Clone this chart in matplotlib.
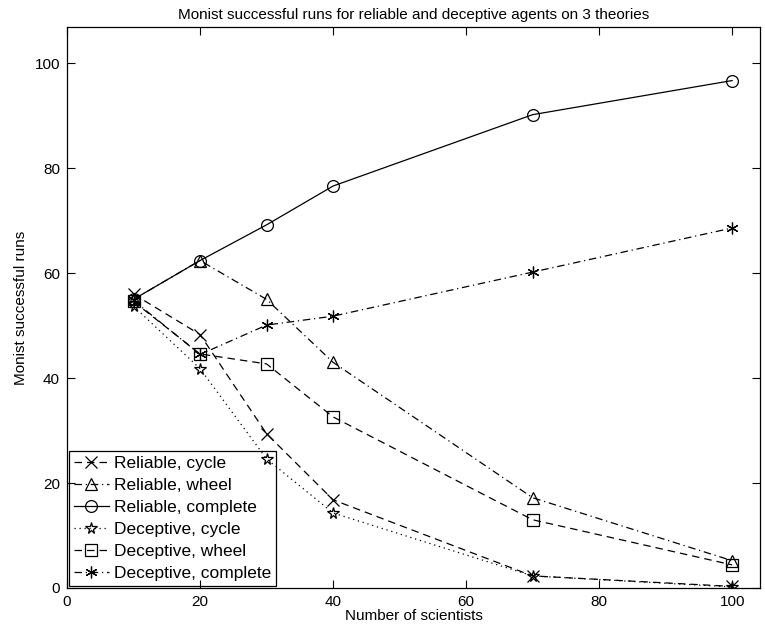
import matplotlib
matplotlib.use("Agg")
import matplotlib.pyplot as plt

plt.rcParams["font.family"] = ["Liberation Sans", "DejaVu Sans"]

scientists = [10, 20, 30, 40, 70, 100]
reliable_cycle = [56.0, 48.3, 29.4, 16.8, 2.3, 0.3]
reliable_wheel = [55.0, 62.4, 55.0, 43.0, 17.2, 5.2]
reliable_complete = [55.0, 62.4, 69.2, 76.6, 90.2, 96.7]
deceptive_cycle = [53.7, 41.8, 24.6, 14.3, 2.3, 0.2]
deceptive_wheel = [54.6, 44.6, 42.7, 32.6, 13.0, 4.4]
deceptive_complete = [54.8, 44.5, 50.1, 51.8, 60.2, 68.6]

series = [
    ("Reliable, cycle", reliable_cycle, "x", (0, (6, 4))),
    ("Reliable, wheel", reliable_wheel, "^", (0, (6, 3, 1, 3))),
    ("Reliable, complete", reliable_complete, "o", "-"),
    ("Deceptive, cycle", deceptive_cycle, "*", (0, (1, 3))),
    ("Deceptive, wheel", deceptive_wheel, "s", (0, (6, 4))),
    ("Deceptive, complete", deceptive_complete, (6, 2, 0), (0, (6, 3, 1, 3))),
]

fig = plt.figure(figsize=(7.65, 6.36), dpi=100)
ax = fig.add_axes([0.0876, 0.0755, 0.906, 0.882])
for label, vals, mk, ls in series:
    ax.plot(scientists, vals, color="black", lw=0.9, ls=ls, marker=mk,
            markersize=8.5, markerfacecolor="none", markeredgecolor="black",
            markeredgewidth=0.9, label=label)

ax.set_xlim(0, 104.2)
ax.set_ylim(0, 106.9)
ax.set_xticks(range(0, 101, 20))
ax.set_yticks(range(0, 101, 20))
ax.tick_params(direction="in", top=True, right=True, labelsize=11, length=6, pad=5)
for s in ax.spines.values():
    s.set_linewidth(0.9)

ax.set_xlabel("Number of scientists", fontsize=11, labelpad=0)
ax.set_ylabel("Monist successful runs", fontsize=11, labelpad=5)
ax.set_title("Monist successful runs for reliable and deceptive agents on 3 theories",
             fontsize=11, pad=6)

leg = ax.legend(loc="lower left", fontsize=12.5, fancybox=False, framealpha=0,
                edgecolor="black", borderaxespad=0.1, handlelength=2.0,
                handletextpad=0.3, labelspacing=0.39, borderpad=0.3)
leg.get_frame().set_linewidth(0.9)
leg.get_frame().set_alpha(None)
leg.get_frame().set_facecolor("none")

fig.savefig("out.png", dpi=100)
